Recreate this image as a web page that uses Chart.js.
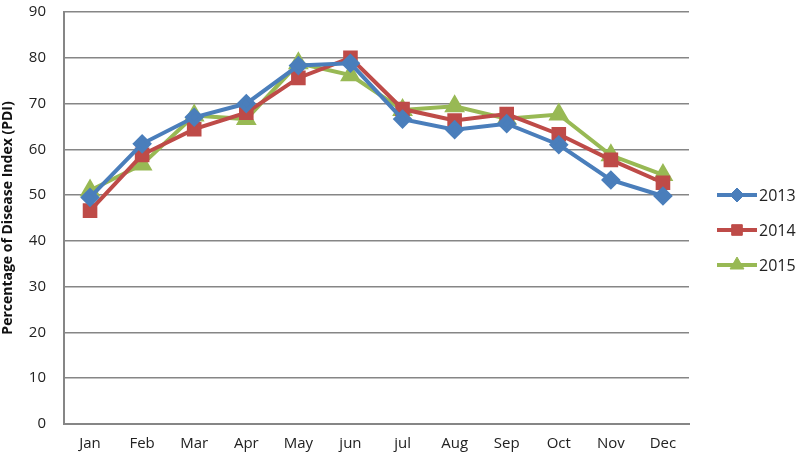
<!DOCTYPE html>
<html>
<head>
<meta charset="utf-8">
<script src="https://cdn.jsdelivr.net/npm/chart.js@4/dist/chart.umd.min.js"></script>
<style>
  html, body { margin: 0; padding: 0; background: #fff; }
  #wrap { width: 800px; height: 460px; }
</style>
</head>
<body>
<div id="wrap"><canvas id="myChart" width="800" height="460"></canvas></div>
<script>
// Data
const months = ["Jan", "Feb", "Mar", "Apr", "May", "jun", "jul", "Aug", "Sep", "Oct", "Nov", "Dec"];
const pdi2013 = [49.5, 61.2, 67, 70, 78.3, 78.8, 66.6, 64.3, 65.6, 61, 53.3, 49.8];
const pdi2014 = [46.6, 58.8, 64.4, 68, 75.6, 80, 68.8, 66.3, 67.7, 63.3, 57.7, 52.7];
const pdi2015 = [51, 56.7, 67.4, 66.6, 78.8, 76.2, 68.6, 69.4, 66.7, 67.6, 58.7, 54.4];
const yTicks = [0, 10, 20, 30, 40, 50, 60, 70, 80, 90];

const font = "'Open Sans', 'Liberation Sans', sans-serif";

const blue = "#4A7EBB";
const red = "#BE4B48";
const green = "#98B954";

function makeSet(label, values, color, style, r) {
    return {
        label: label,
        data: values,
        borderColor: color,
        backgroundColor: color,
        pointBackgroundColor: color,
        pointBorderColor: color,
        borderWidth: 4,
        pointStyle: style,
        pointRadius: r,
        pointHoverRadius: r,
        tension: 0
    };
}

// Legend on the right: a short line with the marker on it, then the label
const sideLegend = {
    id: 'sideLegend',
    afterDraw(chart) {
        const c = chart.ctx;
        chart.data.datasets.forEach(function (ds, i) {
            const y = 195 + i * 35;
            c.save();
            c.strokeStyle = ds.borderColor;
            c.lineWidth = 4;
            c.beginPath();
            c.moveTo(717, y);
            c.lineTo(757, y);
            c.stroke();
            c.fillStyle = ds.borderColor;
            c.lineWidth = 1;
            Chart.helpers.drawPoint(c, { pointStyle: ds.pointStyle, radius: ds.pointRadius, borderWidth: 1, rotation: 0 }, 737, y);
            c.fillStyle = '#222';
            c.font = '16px ' + font;
            c.textBaseline = 'middle';
            c.fillText(ds.label, 759, y + 1);
            c.restore();
        });
    }
};

const ctx = document.getElementById("myChart").getContext("2d");
const myChart = new Chart(ctx, {
    type: "line",
    data: {
        labels: months,
        datasets: [
            makeSet("2013", pdi2013, blue, "rectRot", 7),
            makeSet("2014", pdi2014, red, "rect", 7.5),
            makeSet("2015", pdi2015, green, "triangle", 8)
        ]
    },
    options: {
        responsive: false,
        animation: false,
        layout: { padding: { left: 0, right: 111, top: 10, bottom: 0 } },
        plugins: {
            legend: { display: false },
            tooltip: { enabled: false }
        },
        scales: {
            x: {
                offset: true,
                grid: { display: false, drawTicks: false },
                border: { color: "#868686", width: 2 },
                ticks: {
                    color: "#222",
                    font: { family: font, size: 15 },
                    padding: 11,
                    maxRotation: 0
                },
                afterFit: function (scale) { scale.height = 36; }
            },
            y: {
                min: 0,
                max: 90,
                afterBuildTicks: function (scale) {
                    scale.ticks = yTicks.map(function (v) { return { value: v }; });
                },
                grid: { color: "#868686", lineWidth: 1.5, drawTicks: false },
                border: { color: "#868686", width: 2 },
                ticks: {
                    color: "#222",
                    font: { family: font, size: 15 },
                    padding: 18
                },
                title: {
                    display: true,
                    text: "Percentage of Disease Index (PDI)",
                    color: "#111",
                    font: { family: font, size: 14, weight: "bold" },
                    padding: { top: 0, bottom: 2 }
                },
                afterFit: function (scale) {
                    scale.width = 64;
                    scale.paddingTop = 0;
                    scale.paddingBottom = 0;
                }
            }
        }
    },
    plugins: [sideLegend]
});
</script>
</body>
</html>
